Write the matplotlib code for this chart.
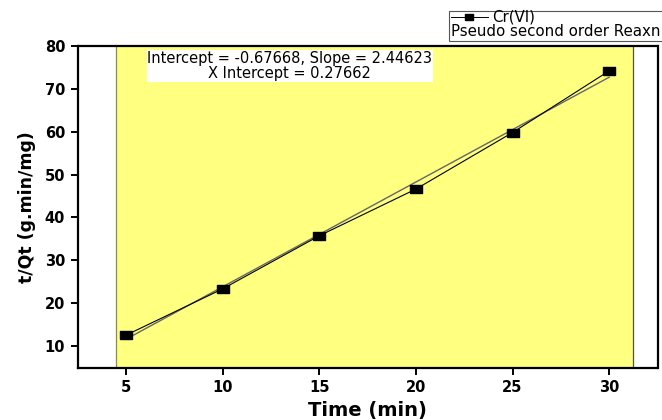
import numpy as np
import matplotlib
matplotlib.use('Agg')
import matplotlib.pyplot as plt
from matplotlib.lines import Line2D
from matplotlib.patches import Rectangle

plt.rcParams['font.family'] = ['DejaVu Sans']

# data
time_min = [5, 10, 15, 20, 25, 30]
t_qt = [12.5, 23.3, 35.7, 46.6, 59.8, 74.2]
intercept = -0.67668
slope = 2.44623
x_intercept = 0.27662

W, H = 662, 420
fig = plt.figure(figsize=(W / 100, H / 100), dpi=100)
ax = fig.add_axes([77.7 / W, 1 - 367.7 / H, (657.5 - 77.7) / W, (367.7 - 46) / H])

# yellow fit region
ax.axvspan(4.48, 31.24, color='#ffff80', zorder=0)
ax.axvline(4.48, color='#8a8a60', lw=0.9, zorder=1)
ax.axvline(31.24, color='#555555', lw=0.9, zorder=1)

# linear fit
xf = np.array([time_min[0], time_min[-1]])
ax.plot(xf, intercept + slope * xf, color='#666666', lw=1.0, zorder=2)

# data (wide square marker)
box = [(-1.4, -1), (1.4, -1), (1.4, 1), (-1.4, 1), (-1.4, -1)]
ax.plot(time_min, t_qt, color='black', lw=0.8, marker=box, ms=8, zorder=3)

ax.set_xlim(2.5, 32.5)
ax.set_ylim(4.9, 80)
ax.set_xticks([5, 10, 15, 20, 25, 30])
ax.set_yticks([10, 20, 30, 40, 50, 60, 70, 80])
ax.tick_params(direction='out', length=5, width=1.4, labelsize=10.5, pad=4)
for lab in ax.get_xticklabels() + ax.get_yticklabels():
    lab.set_fontweight('bold')
for s in ax.spines.values():
    s.set_linewidth(1.6)

ax.set_xlabel('Time (min)', fontsize=14, fontweight='bold', labelpad=4)
ax.set_ylabel('t/Qt (g.min/mg)', fontsize=12.5, fontweight='bold', labelpad=6)

ax.text(0.366, 0.985, 'Intercept = -0.67668, Slope = 2.44623\nX Intercept = 0.%s' % str(x_intercept).split('.')[1],
        transform=ax.transAxes, ha='center', va='top', fontsize=10.5,
        linespacing=1.0, multialignment='center',
        bbox=dict(facecolor='white', edgecolor='none', pad=0.6))

# legend box outside at top right (partly cut by the figure edge)
fig.patches.append(Rectangle((449 / W, 1 - 41 / H), 240 / W, 30 / H,
                             transform=fig.transFigure, facecolor='white',
                             edgecolor='#555555', lw=0.8))
fig.lines.append(Line2D([451 / W, 488 / W], [1 - 16.5 / H, 1 - 16.5 / H],
                        transform=fig.transFigure, color='black', lw=0.7))
fig.lines.append(Line2D([469 / W], [1 - 16.5 / H], transform=fig.transFigure,
                        color='black', marker=box, ms=6, ls='none'))
fig.text(492 / W, 1 - 16.5 / H, 'Cr(VI)', fontsize=10.8, va='center', ha='left')
fig.text(451 / W, 1 - 32 / H, 'Pseudo second order Reaxn', fontsize=10.8,
         va='center', ha='left')

fig.savefig('out.png', dpi=100)
